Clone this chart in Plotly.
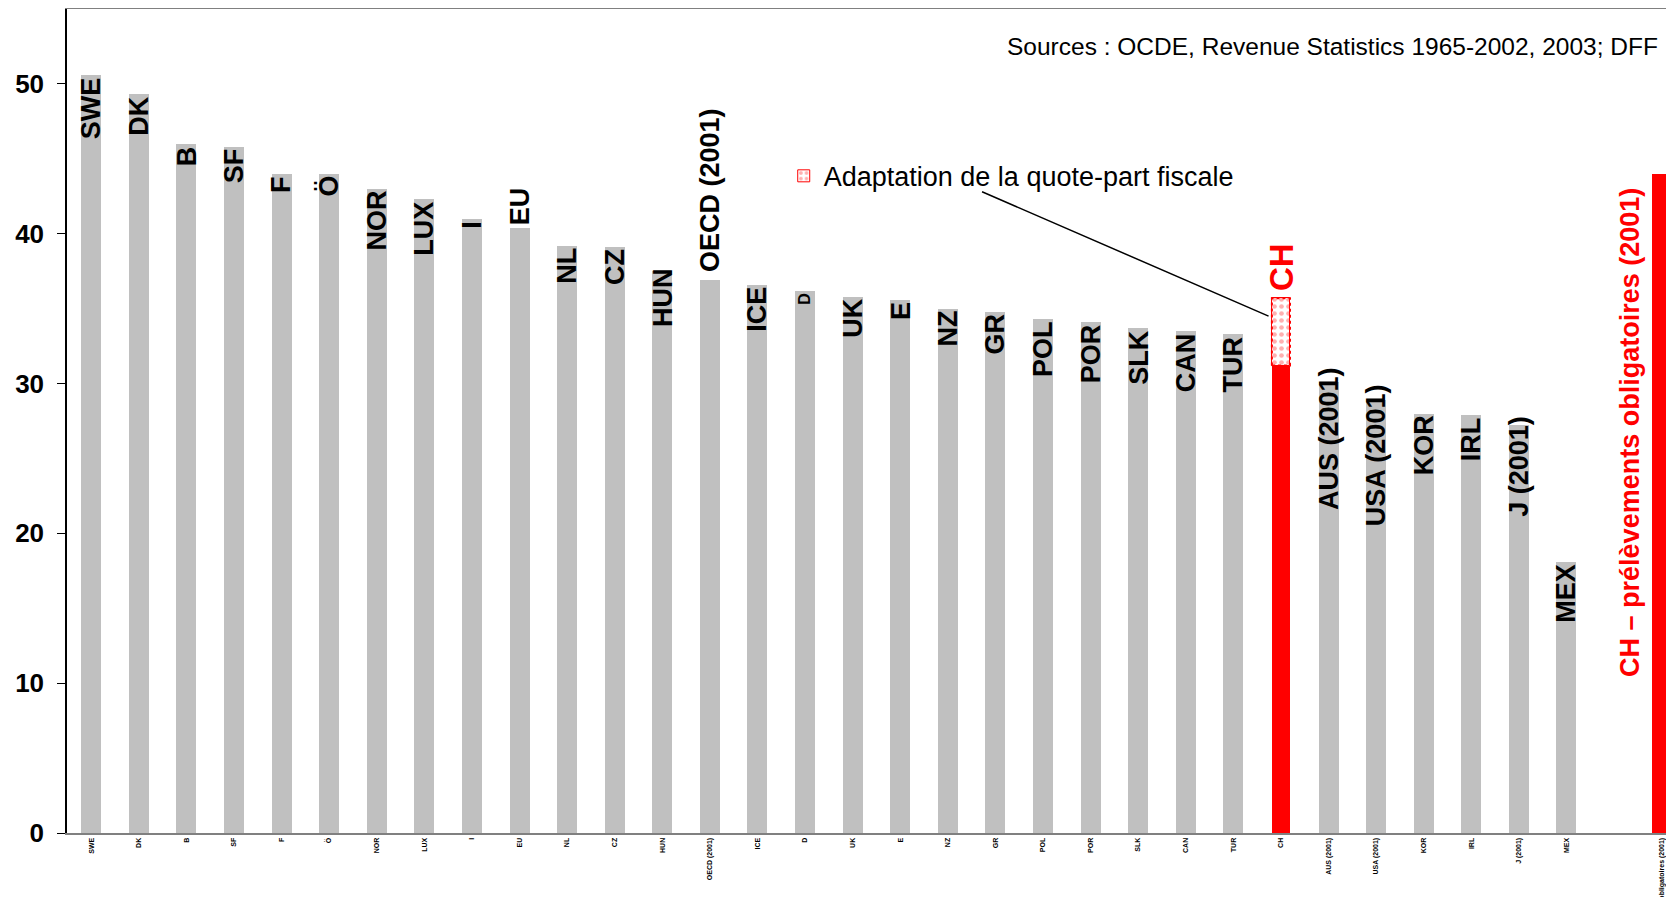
import plotly.graph_objects as go

# Quote-part fiscale 2002 (en % du PIB), OCDE
countries = ["SWE", "DK", "B", "SF", "F", "Ö", "NOR", "LUX", "I", "EU",
             "NL", "CZ", "HUN", "OECD (2001)", "ICE", "D", "UK", "E", "NZ", "GR",
             "POL", "POR", "SLK", "CAN", "TUR", "CH", "AUS (2001)", "USA (2001)",
             "KOR", "IRL", "J (2001)", "MEX"]
values = [50.6, 49.3, 46.0, 45.8, 44.0, 44.0, 43.0, 42.3, 41.0, 40.4,
          39.2, 39.1, 37.5, 36.9, 36.6, 36.2, 35.8, 35.6, 35.0, 34.8,
          34.3, 34.1, 33.7, 33.5, 33.3, 31.2, 30.1, 28.9,
          28.0, 27.9, 27.2, 18.1]
ch_adaptation = 4.5
ch_prel_label = "CH – prélèvements obligatoires (2001)"
ch_prel_value = 44.0
y_ticks = [0, 10, 20, 30, 40, 50]

source = "Sources : OCDE, Revenue Statistics 1965-2002, 2003; DFF"
legend_name = "Adaptation de la quote-part fiscale"

FONT = "Liberation Sans, Arial, sans-serif"
GREY = "#C0C0C0"
RED = "#FF0000"

ch_idx = countries.index("CH")
prel_idx = len(countries) + 1  # one empty slot before the last bar

xs = list(range(len(countries))) + [prel_idx]
ys = values + [ch_prel_value]
colors = [RED if c == "CH" else GREY for c in countries] + [RED]
widths = [0.38 if c == "CH" else 0.42 for c in countries] + [0.40]

fig = go.Figure()
fig.add_trace(go.Bar(x=xs, y=ys, width=widths, marker=dict(color=colors, line=dict(width=0)),
                     showlegend=False, hoverinfo="x+y"))
fig.add_trace(go.Bar(x=[ch_idx], y=[ch_adaptation], base=[values[ch_idx]], width=0.38,
                     name=legend_name, showlegend=True,
                     marker=dict(color="white", line=dict(color=RED, width=1),
                                 pattern=dict(shape=".", fgcolor="#FF6060", bgcolor="white",
                                              size=7, solidity=0.35))))

# dashed outline around the adaptation part
fig.add_shape(type="rect", xref="x", yref="y",
              x0=ch_idx - 0.19, x1=ch_idx + 0.19,
              y0=values[ch_idx], y1=values[ch_idx] + ch_adaptation,
              line=dict(color=RED, width=2, dash="dot"))

# labels inside / above the bars (some were hand-placed higher in the original)
lift = {"EU": 42, "HUN": 5, "AUS (2001)": 17, "USA (2001)": 18, "J (2001)": 12}
for i, (c, v) in enumerate(zip(countries, values)):
    if c == "CH":
        continue
    if c == "OECD (2001)":
        fig.add_annotation(x=i, y=v, text=c, textangle=-90, showarrow=False,
                           yanchor="bottom", yshift=6,
                           font=dict(family=FONT, size=27, color="black", weight="bold"))
        continue
    fig.add_annotation(x=i, y=v, text=c, textangle=-90, showarrow=False,
                       yanchor="top", yshift=lift.get(c, 0),
                       font=dict(family=FONT, size=16 if c == "D" else 27,
                                 color="black", weight="bold"))

fig.add_annotation(x=ch_idx, y=values[ch_idx] + ch_adaptation, text="CH", textangle=-90,
                   showarrow=False, yanchor="bottom", yshift=5,
                   font=dict(family=FONT, size=33, color=RED, weight="bold"))
fig.add_annotation(x=prel_idx, y=ch_prel_value, text=ch_prel_label, textangle=-90,
                   showarrow=False, yanchor="top", xshift=-31, yshift=-12,
                   font=dict(family=FONT, size=27, color=RED, weight="bold"))

# leader line from the legend text to the adaptation bar
fig.add_annotation(x=ch_idx - 0.26, y=values[ch_idx] + ch_adaptation - 1.2, text="",
                   showarrow=True, arrowhead=0, arrowwidth=1.5, arrowcolor="black",
                   ax=-288, ay=-125, standoff=0, startstandoff=0)

fig.add_annotation(xref="paper", yref="paper", x=0.991, y=0.954, text=source,
                   showarrow=False, xanchor="right", yanchor="middle",
                   font=dict(family=FONT, size=24.5, color="black"))

# the page body adds an 8px offset, so the figure is drawn 8px smaller
fig.update_layout(
    width=1666, height=889,
    margin=dict(l=59, r=0, t=1, b=64),
    plot_bgcolor="white", paper_bgcolor="white",
    barmode="overlay", bargap=0,
    font=dict(family=FONT, color="black"),
    legend=dict(x=0.446, y=0.797, xanchor="left", yanchor="middle",
                bgcolor="rgba(0,0,0,0)", font=dict(family=FONT, size=27, color="black")),
    xaxis=dict(range=[-0.51, 33.26], tickvals=xs, ticktext=countries + [ch_prel_label],
               tickangle=-90, tickfont=dict(family=FONT, size=7, color="black", weight="bold"),
               showline=True, linecolor="#808080", linewidth=2, mirror=True, automargin=False,
               ticks="", showgrid=False, zeroline=False),
    yaxis=dict(range=[0, 55], tickvals=y_ticks, ticks="outside", ticklen=8, tickcolor="black",
               tickwidth=1, showline=True, linecolor="black", linewidth=1.5, automargin=False,
               showgrid=False, zeroline=False, ticklabelstandoff=8,
               tickfont=dict(family=FONT, size=26, color="black", weight="bold")),
)

fig.write_html("out.html")
